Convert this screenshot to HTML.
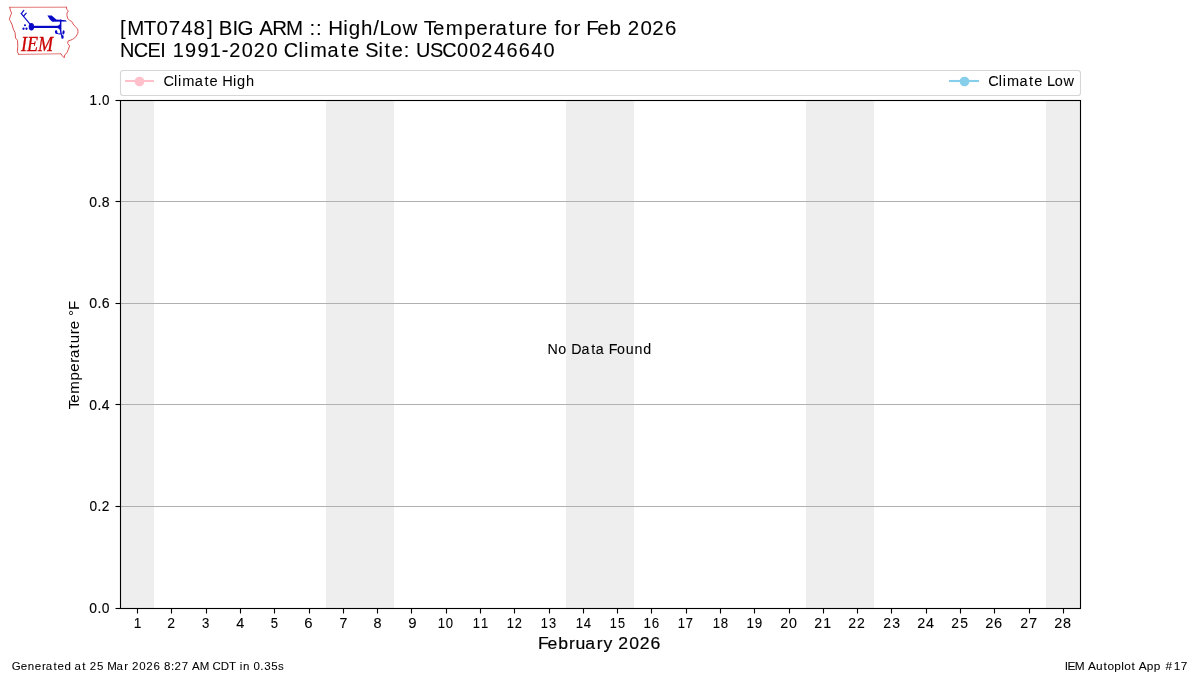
<!DOCTYPE html>
<html lang="en"><head><meta charset="utf-8"><title>IEM Autoplot App #17</title>
<style>html,body{margin:0;padding:0;background:#fff;}body{width:1200px;height:675px;overflow:hidden;}svg{display:block;will-change:transform;}text{font-family:"Liberation Sans",sans-serif;fill:#000;font-kerning:none;white-space:pre;}</style>
</head><body>
<svg width="1200" height="675" viewBox="0 0 1200 675">
<rect x="0" y="0" width="1200" height="675" fill="#ffffff"/>
<g fill="#eeeeee">
<rect x="120" y="100.5" width="34" height="508.0"/>
<rect x="326" y="100.5" width="34" height="508.0"/>
<rect x="360" y="100.5" width="34" height="508.0"/>
<rect x="566" y="100.5" width="34" height="508.0"/>
<rect x="600" y="100.5" width="34" height="508.0"/>
<rect x="806" y="100.5" width="34" height="508.0"/>
<rect x="840" y="100.5" width="34" height="508.0"/>
<rect x="1046" y="100.5" width="34" height="508.0"/>
</g>
<g stroke="#b0b0b0" stroke-width="1.11">
<line x1="120.0" y1="201.5" x2="1080.0" y2="201.5"/>
<line x1="120.0" y1="303.5" x2="1080.0" y2="303.5"/>
<line x1="120.0" y1="404.5" x2="1080.0" y2="404.5"/>
<line x1="120.0" y1="506.5" x2="1080.0" y2="506.5"/>
</g>
<g stroke="#000000" stroke-width="1.11">
<line x1="137.5" y1="608" x2="137.5" y2="613.5"/>
<line x1="171.5" y1="608" x2="171.5" y2="613.5"/>
<line x1="206.5" y1="608" x2="206.5" y2="613.5"/>
<line x1="240.5" y1="608" x2="240.5" y2="613.5"/>
<line x1="274.5" y1="608" x2="274.5" y2="613.5"/>
<line x1="309.5" y1="608" x2="309.5" y2="613.5"/>
<line x1="343.5" y1="608" x2="343.5" y2="613.5"/>
<line x1="377.5" y1="608" x2="377.5" y2="613.5"/>
<line x1="411.5" y1="608" x2="411.5" y2="613.5"/>
<line x1="446.5" y1="608" x2="446.5" y2="613.5"/>
<line x1="480.5" y1="608" x2="480.5" y2="613.5"/>
<line x1="514.5" y1="608" x2="514.5" y2="613.5"/>
<line x1="549.5" y1="608" x2="549.5" y2="613.5"/>
<line x1="583.5" y1="608" x2="583.5" y2="613.5"/>
<line x1="617.5" y1="608" x2="617.5" y2="613.5"/>
<line x1="651.5" y1="608" x2="651.5" y2="613.5"/>
<line x1="686.5" y1="608" x2="686.5" y2="613.5"/>
<line x1="720.5" y1="608" x2="720.5" y2="613.5"/>
<line x1="754.5" y1="608" x2="754.5" y2="613.5"/>
<line x1="789.5" y1="608" x2="789.5" y2="613.5"/>
<line x1="823.5" y1="608" x2="823.5" y2="613.5"/>
<line x1="857.5" y1="608" x2="857.5" y2="613.5"/>
<line x1="891.5" y1="608" x2="891.5" y2="613.5"/>
<line x1="926.5" y1="608" x2="926.5" y2="613.5"/>
<line x1="960.5" y1="608" x2="960.5" y2="613.5"/>
<line x1="994.5" y1="608" x2="994.5" y2="613.5"/>
<line x1="1029.5" y1="608" x2="1029.5" y2="613.5"/>
<line x1="1063.5" y1="608" x2="1063.5" y2="613.5"/>
<line x1="115.5" y1="100.5" x2="120.5" y2="100.5"/>
<line x1="115.5" y1="201.5" x2="120.5" y2="201.5"/>
<line x1="115.5" y1="303.5" x2="120.5" y2="303.5"/>
<line x1="115.5" y1="404.5" x2="120.5" y2="404.5"/>
<line x1="115.5" y1="506.5" x2="120.5" y2="506.5"/>
<line x1="115.5" y1="608.5" x2="120.5" y2="608.5"/>
</g>
<rect x="120.5" y="100.5" width="960.0" height="508.0" fill="none" stroke="#000000" stroke-width="1.11"/>
<rect x="120.5" y="70.5" width="960" height="25" rx="2.8" ry="2.8" fill="#ffffff" stroke="#d6d6d6" stroke-width="1.11"/>
<line x1="125" y1="81" x2="154" y2="81" stroke="#ffc0cb" stroke-width="2.08"/>
<circle cx="139.5" cy="81.5" r="4.86" fill="#ffc0cb"/>
<line x1="949" y1="81" x2="979" y2="81" stroke="#87ceeb" stroke-width="2.08"/>
<circle cx="964.5" cy="81.5" r="4.86" fill="#87ceeb"/>
<text transform="translate(164.7 85.8) scale(0.9988 1)" font-size="14.65" x="-1.27 9.35 13.26 17.59 30.13 39.8 44.92 49.32 57.6 68.41 72.27 81.3" stroke="#000" stroke-width="0.027">Climate High</text>
<text transform="translate(989.4 85.8) scale(0.9911 1)" font-size="14.65" x="-1.24 9.42 13.36 17.74 30.35 40.07 45.24 49.64 58.15 65.85 74.69" stroke="#000" stroke-width="0.056">Climate Low</text>
<text transform="translate(121.6 35) scale(0.9992 1)" font-size="20.51" x="-1.49 5.66 22.22 35 47.19 59.59 71.95 85.54 91.69 97.35 110.94 116.09 122.24 137.69 150.89 164.57 170.72 188.12 194.61 200.77 206.81 221.83 227.24 239.71 251.91 258.21 268.83 281.09 287.25 302.46 311.71 324.35 342.82 354.9 367.52 374.2 387.46 394.57 407.35 414.45 420.6 433.18 439.59 452.28 458.44 464.97 476.11 488.37 494.52 506.6 519.21 531.19 543.81" stroke="#000" stroke-width="0.064">[MT0748] BIG ARM :: High/Low Temperature for Feb 2026</text>
<text transform="translate(121.7 56.8) scale(0.9709 1)" font-size="20.51" x="-1.88 12.47 26.47 39.77 45.93 52.48 65.28 78.04 90.77 103.16 110.71 123.73 136.1 149.13 155.28 167.02 182.09 187.77 194.21 212.09 225.67 233.01 239.16 250.95 264.6 270.79 278.12 290.53 296.68 303.07 317.59 330.21 345.44 358.08 370.44 383.47 396.23 409 421.75 434.51" stroke="#000" stroke-width="0.102">NCEI 1991-2020 Climate Site: USC00246640</text>
<text transform="translate(12.5 670) scale(1.0005 1)" font-size="11.5" x="-0.79 8.25 15.23 22.25 29.47 33.3 40.94 45.01 51.9 55.35 62.06 69.7 73.15 77.21 84.44 87.89 94.66 104.07 111.75 115.2 119.48 126.75 133.6 140.88 144.33 151.38 158.45 161.99 169.24 172.69 179.52 187.19 190.64 199.98 208.21 216.45 219.9 227.09 230.29 233.74 240.91 247.74 251.55 258.5 265.3" stroke="#000" stroke-width="0.049">Generated at 25 Mar 2026 8:27 AM CDT in 0.35s</text>
<text transform="translate(1065.8 670) scale(1.0314 1)" font-size="11.5" x="-1.07 1.63 8.77 12.22 21.51 29.26 36.48 40.35 47.09 53.82 56.74 63.69 67.14 70.7 78.55 85.36 88.81 96.59 104.55 111.39" stroke="#000" stroke-width="0.064">IEM Autoplot App #17</text>
<text transform="translate(540.25 649) scale(1.0256 1)" font-size="17.17" x="-2.17 7.17 17.47 28.09 34.41 43.97 55.12 61.61 66.76 76.14 86.8 96.91 107.57" stroke="#000" stroke-width="0.186">February 2026</text>
<text transform="translate(548.8 353.8) scale(0.9731 1)" font-size="14.65" x="-1.32 9.68 14.07 22.97 33.64 43.53 48.28 52.68 61.6 70.06 79 88.13 97.09" stroke="#000" stroke-width="0.076">No Data Found</text>
<text transform="translate(79.1 408.9) rotate(-90) scale(1.0272 1)" font-size="14.65" x="-0.3 6.11 14.79 27.71 36.16 44.91 49.47 58.89 63.85 72.78 77.65 82.05 90.53 96.26" stroke="#000" stroke-width="0.038">Temperature °F</text>
<g id="xticklabels" stroke="#000" stroke-width="0.082">
<text transform="translate(134.71 628) scale(0.9361 1)" font-size="14.65" x="-1.12">1</text>
<text transform="translate(168 628) scale(0.9552 1)" font-size="14.65" x="-0.74">2</text>
<text transform="translate(202.38 628) scale(0.8987 1)" font-size="14.65" x="-0.56">3</text>
<text transform="translate(236.69 628) scale(0.9905 1)" font-size="14.65" x="-0.34">4</text>
<text transform="translate(271.34 628) scale(0.8908 1)" font-size="14.65" x="-0.59">5</text>
<text transform="translate(305 628) scale(1.0202 1)" font-size="14.65" x="-0.74">6</text>
<text transform="translate(340.12 628) scale(0.9702 1)" font-size="14.65" x="-0.75">7</text>
<text transform="translate(374.07 628) scale(0.9867 1)" font-size="14.65" x="-0.64">8</text>
<text transform="translate(408.95 628) scale(1.0197 1)" font-size="14.65" x="-0.69">9</text>
<text transform="translate(438.71 628) scale(0.8937 1)" font-size="14.65" x="-1.19 7.96">10</text>
<text transform="translate(473.71 628) scale(0.8829 1)" font-size="14.65" x="-1.12 8.18">11</text>
<text transform="translate(507.71 628) scale(0.8773 1)" font-size="14.65" x="-1.13 8">12</text>
<text transform="translate(541.71 628) scale(0.8755 1)" font-size="14.65" x="-1.13 8.24">13</text>
<text transform="translate(576.71 628) scale(0.8997 1)" font-size="14.65" x="-1.19 7.95">14</text>
<text transform="translate(610.71 628) scale(0.8672 1)" font-size="14.65" x="-1.1 8.27">15</text>
<text transform="translate(644.71 628) scale(0.9142 1)" font-size="14.65" x="-1.25 7.74">16</text>
<text transform="translate(678.71 628) scale(0.8854 1)" font-size="14.65" x="-1.15 8.07">17</text>
<text transform="translate(713.71 628) scale(0.9046 1)" font-size="14.65" x="-1.21 7.89">18</text>
<text transform="translate(747.71 628) scale(0.9162 1)" font-size="14.65" x="-1.24 7.71">19</text>
<text transform="translate(781 628) scale(0.9747 1)" font-size="14.65" x="-0.8 8.3">20</text>
<text transform="translate(815 628) scale(0.9644 1)" font-size="14.65" x="-0.72 8.53">21</text>
<text transform="translate(849 628) scale(0.9597 1)" font-size="14.65" x="-0.74 8.35">22</text>
<text transform="translate(884 628) scale(0.9563 1)" font-size="14.65" x="-0.73 8.58">23</text>
<text transform="translate(918 628) scale(0.9798 1)" font-size="14.65" x="-0.8 8.29">24</text>
<text transform="translate(952 628) scale(0.9481 1)" font-size="14.65" x="-0.7 8.62">25</text>
<text transform="translate(986 628) scale(0.9958 1)" font-size="14.65" x="-0.86 8.09">26</text>
<text transform="translate(1021 628) scale(0.9671 1)" font-size="14.65" x="-0.76 8.42">27</text>
<text transform="translate(1055 628) scale(0.9859 1)" font-size="14.65" x="-0.82 8.23">28</text>
</g><g id="yticklabels" stroke="#000" stroke-width="0.136">
<text transform="translate(90.71 104.85) scale(0.9166 1)" font-size="14.65" x="-1.21 7.69 12.35">1.0</text>
<text transform="translate(89.9 206.85) scale(0.9549 1)" font-size="14.65" x="-0.6 7.94 12.44">0.8</text>
<text transform="translate(89.9 307.85) scale(0.9645 1)" font-size="14.65" x="-0.63 7.83 12.27">0.6</text>
<text transform="translate(89.9 409.85) scale(0.9508 1)" font-size="14.65" x="-0.58 7.98 12.52">0.4</text>
<text transform="translate(89.9 510.85) scale(0.9329 1)" font-size="14.65" x="-0.52 8.15 12.61">0.2</text>
<text transform="translate(89.9 612.85) scale(0.9464 1)" font-size="14.65" x="-0.58 7.98 12.52">0.0</text>
</g>
<g id="logo">
<g fill="none" stroke-linejoin="round" stroke-linecap="round"><path d="M9.8 7.3 L66.4 7.2 M60.8 53.8 L18.7 54.4" stroke="#e57878" stroke-width="1"/><path d="M66.4 7.2 L66.7 9.3 L68.4 10.9 L67.1 12.9 L66.9 15.6 L67.8 18.7 L69.6 20.2 L71.8 21.6 L73.1 24 L75.3 26.7 L77.6 28.9 L78 31.6 L77.7 33.6 L75.8 36.9 L72.4 39.5 L68.2 40.9 L67.6 43.4 L69.6 45.9 L68.4 49.3 L67 52.7 L64.8 54.7 L64.2 57.8 L62.3 55.8 L60.8 53.8 M18.7 54.4 L17.3 51.6 L17.8 46.5 L17.5 40.3 L15.6 38.1 L15 32.4 L13.3 29.1 L12.2 24.9 L10.7 21.8 L9.3 19.3 L10.4 16 L11.6 13.1 L10.2 9.8 L9.8 7.3" stroke="#dc5252" stroke-width="1"/></g>
<g fill="#0808c8" stroke="none">
<ellipse cx="31.4" cy="26.7" rx="2.7" ry="3.8"/>
<rect x="31.4" y="25.8" width="29.2" height="2.2"/>
<circle cx="25" cy="25.3" r="1.05"/><circle cx="23.5" cy="28.75" r="1.15"/><circle cx="26.5" cy="28.75" r="1.15"/>
<path d="M47.4 15.4 L51.7 15.4 L56.3 19.6 L65.6 20.2 L67 21.5 L52.3 21.7 L49.9 19.4 Z"/>
<path d="M59.9 19.4 L61.4 19.4 L61.4 30.8 L61.8 33.5 L63 37 L62 37.3 L60.5 33.9 L59.9 30.8 L59.9 29.9 Q59.4 28.3 57.2 27.9 L57.2 25.9 Q59.4 25.5 59.9 23.9 Z"/>
<ellipse cx="56.15" cy="32.1" rx="1.25" ry="2.0" transform="rotate(-12 56.15 32.1)"/>
<ellipse cx="63.5" cy="32.4" rx="1.1" ry="2.2" transform="rotate(8 63.5 32.4)"/>
<ellipse cx="62.45" cy="36.9" rx="1.25" ry="1.9"/>
</g>
<g fill="none" stroke="#0808c8" stroke-linecap="round">
<path d="M29.8 23.8 L21.3 13.6" stroke-width="1.15"/>
<path d="M21.3 13.6 L23.8 10.4 M23.6 16.2 L26.2 13.1" stroke-width="1.2"/>
<path d="M56.7 33.2 Q58.6 34.5 60.8 33.9" stroke-width="1.0"/>
</g>
<text x="21" y="51.45" font-size="21.5" textLength="32.2" lengthAdjust="spacingAndGlyphs" style="font-family:'Liberation Serif',serif;font-style:italic;fill:#cc0000;stroke:#cc0000;stroke-width:0.3px">IEM</text>
</g>
</svg></body></html>
